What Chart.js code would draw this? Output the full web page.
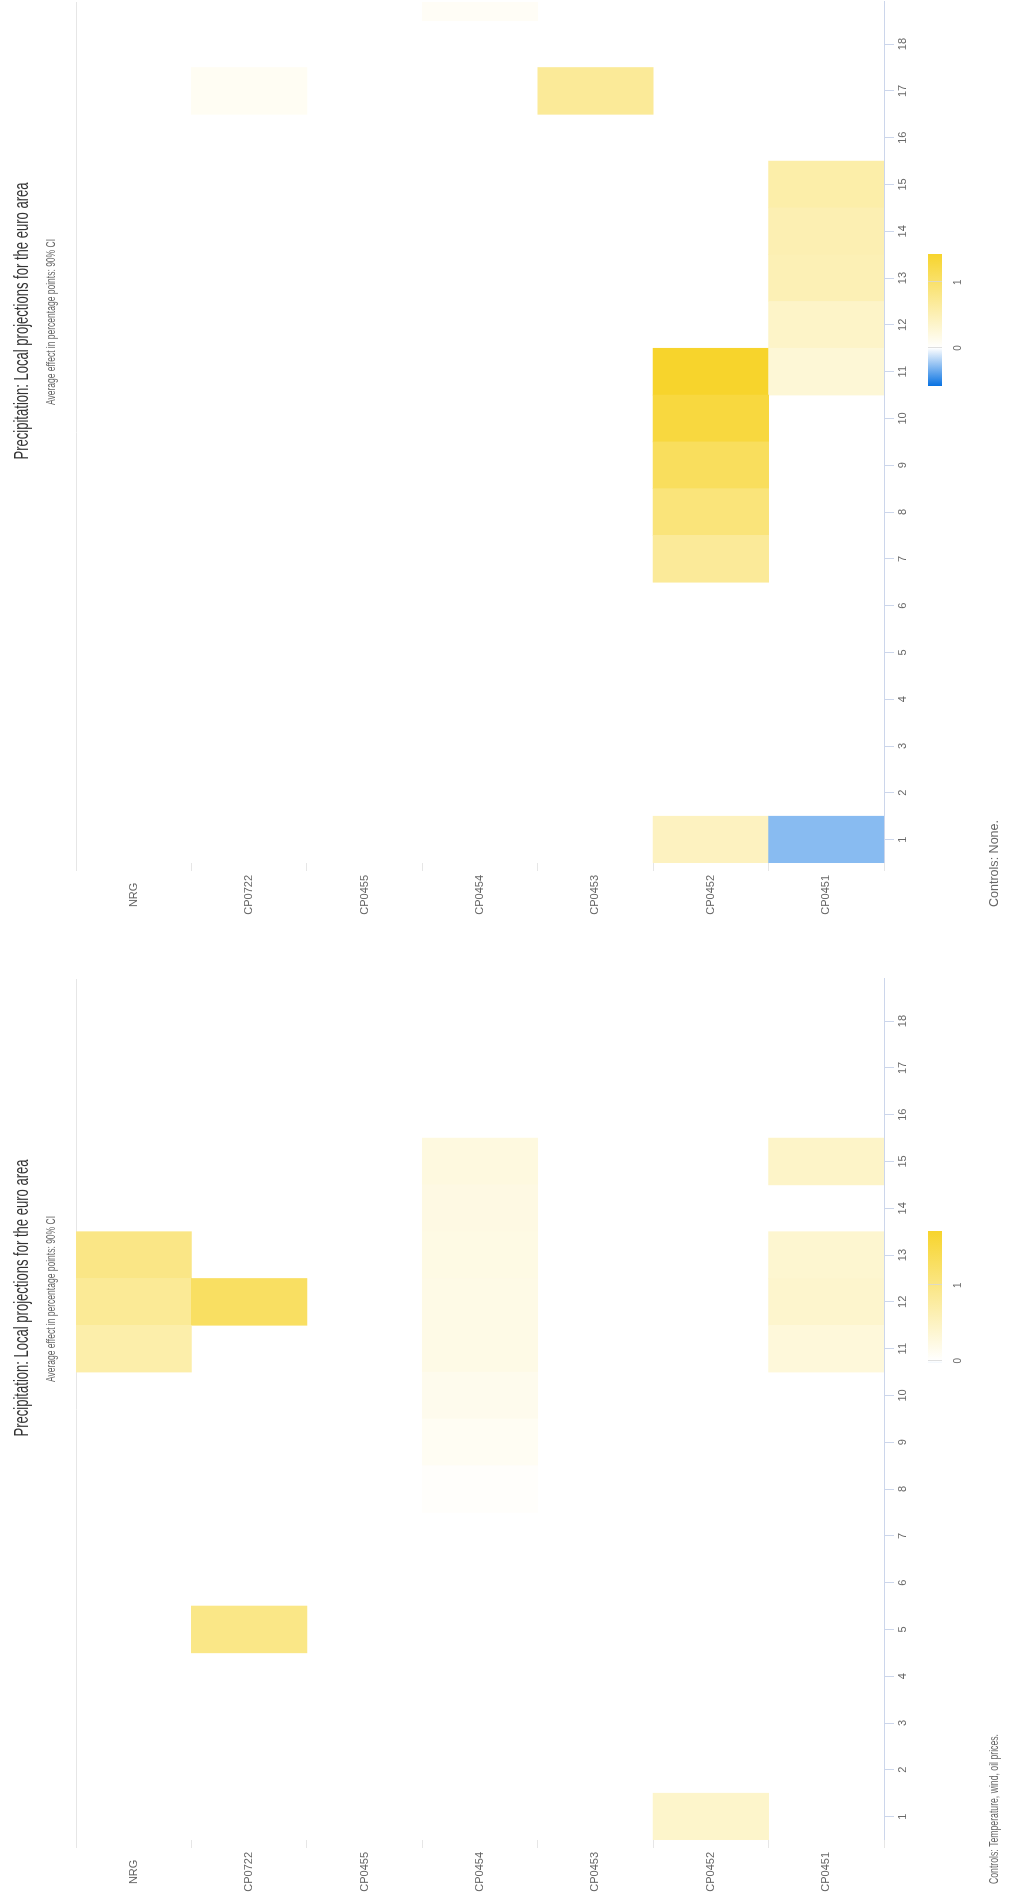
<!DOCTYPE html>
<html lang="en">
<head>
  <meta charset="UTF-8">
  <title>Precipitation: Local projections for the euro area</title>
  <style>
    html, body { margin: 0; padding: 0; background: #fff; overflow: hidden; }
    body { width: 1016px; height: 1897px; position: relative; }
    .panel { position: absolute; left: 0; top: 0; width: 976px; height: 1016px; transform-origin: 0 0; }
    #panel1 { transform: translate(0px, 948px) rotate(-90deg); }
    #panel2 { transform: translate(0px, 1925px) rotate(-90deg); }
    canvas { display: block; }
  </style>
  <script src="https://cdn.jsdelivr.net/npm/chart.js"></script>
</head>
<body>
  <div class="panel" id="panel1"><canvas id="chartNone" width="976" height="1016"></canvas></div>
  <div class="panel" id="panel2"><canvas id="chartControls" width="976" height="1016"></canvas></div>

  <script>
    // data
    const categories = ['NRG', 'CP0722', 'CP0455', 'CP0454', 'CP0453', 'CP0452', 'CP0451'];
    const horizons = [1, 2, 3, 4, 5, 6, 7, 8, 9, 10, 11, 12, 13, 14, 15, 16, 17, 18, 19];
    const tickValues = [1, 2, 3, 4, 5, 6, 7, 8, 9, 10, 11, 12, 13, 14, 15, 16, 17, 18];
    const legendTicks = [0, 1];

    // [category, horizon, effect]
    const cellsNoControls = [
      ['CP0452', 1, 0.43], ['CP0452', 7, 0.69], ['CP0452', 8, 0.90], ['CP0452', 9, 1.10],
      ['CP0452', 10, 1.30], ['CP0452', 11, 1.43],
      ['CP0451', 1, -0.28], ['CP0451', 11, 0.28], ['CP0451', 12, 0.37], ['CP0451', 13, 0.50],
      ['CP0451', 14, 0.52], ['CP0451', 15, 0.58],
      ['CP0453', 17, 0.70],
      ['CP0722', 17, 0.08],
      ['CP0454', 19, 0.06]
    ];
    const rangeNoControls = [-0.58, 1.43];

    const cellsWithControls = [
      ['NRG', 11, 0.69], ['NRG', 12, 0.86], ['NRG', 13, 0.99],
      ['CP0722', 5, 0.98], ['CP0722', 12, 1.28],
      ['CP0454', 8, 0.03], ['CP0454', 9, 0.10], ['CP0454', 10, 0.15], ['CP0454', 11, 0.20],
      ['CP0454', 12, 0.20], ['CP0454', 13, 0.22], ['CP0454', 14, 0.23], ['CP0454', 15, 0.26],
      ['CP0452', 1, 0.42],
      ['CP0451', 11, 0.30], ['CP0451', 12, 0.41], ['CP0451', 13, 0.38], ['CP0451', 15, 0.45]
    ];
    const rangeWithControls = [-0.03, 1.72];

    const titleText = 'Precipitation: Local projections for the euro area';
    const subtitleText = 'Average effect in percentage points: 90% CI';
    const captionNoControls = 'Controls: None.';
    const captionWithControls = 'Controls: Temperature, wind, oil prices.';

    const FONT = '"Liberation Sans", Arial, sans-serif';
    const white = [255, 255, 255], yellow = [247, 212, 44], blue = [8, 114, 226];
    const blueDepth = -0.58;

    function cellColor(v, max) {
      const to = v >= 0 ? yellow : blue;
      const t = Math.max(0, Math.min(1, v >= 0 ? v / max : v / blueDepth));
      return 'rgb(' + white.map((w, i) => Math.round(w + (to[i] - w) * t)).join(',') + ')';
    }

    function buildDatasets(cells, range) {
      return horizons.map(h => {
        const row = categories.map(c => cells.find(d => d[0] === c && d[1] === h));
        return {
          label: 'h' + h,
          data: row.map(d => d ? [h - 0.5, h + 0.5] : null),
          backgroundColor: row.map(d => d ? cellColor(d[2], range[1]) : 'rgba(0,0,0,0)'),
          borderWidth: 0
        };
      });
    }

    // squeeze text horizontally to the narrow face used in the original
    function drawText(ctx, text, x, y, font, color, align, width) {
      ctx.save();
      ctx.font = font;
      const sx = width / ctx.measureText(text).width;
      ctx.translate(align === 'center' ? x - width / 2 : x, y);
      ctx.scale(sx, 1);
      ctx.textAlign = 'left';
      ctx.textBaseline = 'middle';
      ctx.fillStyle = color;
      ctx.fillText(text, 0, 0);
      ctx.restore();
    }

    const decorations = {
      id: 'decorations',
      afterDraw(chart, args, opts) {
        const ctx = chart.ctx;
        drawText(ctx, titleText, 627, 22, '21px ' + FONT, '#333', 'center', 277);
        drawText(ctx, subtitleText, 626, 51, '13px ' + FONT, '#666', 'center', 166);
        drawText(ctx, opts.caption, 41, 994, '13px ' + FONT, '#666', 'left', opts.captionWidth);

        // colour axis
        const [min, max] = opts.range;
        const box = { left: 562, width: 132, top: 928, height: 14 };
        const px = v => box.left + (v - min) / (max - min) * box.width;
        const grad = ctx.createLinearGradient(box.left, 0, box.left + box.width, 0);
        grad.addColorStop(0, cellColor(min, max));
        if (min < 0) grad.addColorStop(-min / (max - min), cellColor(0, max));
        grad.addColorStop(1, cellColor(max, max));
        ctx.save();
        ctx.fillStyle = grad;
        ctx.fillRect(box.left, box.top, box.width, box.height);
        ctx.strokeStyle = 'rgba(215,215,215,0.8)';
        ctx.lineWidth = 1;
        legendTicks.forEach(v => {
          const x = Math.round(px(v)) + 0.5;
          ctx.beginPath();
          ctx.moveTo(x, box.top);
          ctx.lineTo(x, box.top + box.height);
          ctx.stroke();
          drawText(ctx, String(v), px(v), 958, '11px ' + FONT, '#666', 'center', 5.5);
        });
        ctx.restore();
      }
    };

    function makeChart(id, cells, range, caption, captionWidth) {
      return new Chart(document.getElementById(id), {
        type: 'bar',
        data: { labels: categories, datasets: buildDatasets(cells, range) },
        plugins: [decorations],
        options: {
          indexAxis: 'y',
          responsive: false,
          animation: false,
          events: [],
          layout: { padding: { top: 76, right: 30, bottom: 100, left: 0 } },
          datasets: { bar: { grouped: false, barPercentage: 1, categoryPercentage: 1 } },
          plugins: {
            legend: { display: false },
            tooltip: { enabled: false },
            decorations: { range: range, caption: caption, captionWidth: captionWidth }
          },
          scales: {
            x: {
              type: 'linear',
              min: 0.5,
              max: 18.9,
              afterBuildTicks: s => { s.ticks = tickValues.map(v => ({ value: v })); },
              afterFit: s => { s.height = 32; },
              grid: { drawOnChartArea: false, color: '#ccd6eb', tickColor: '#ccd6eb', tickLength: 10 },
              border: { color: '#ccd6eb' },
              ticks: { color: '#666', font: { family: FONT, size: 11 }, padding: 2, maxRotation: 0, autoSkip: false }
            },
            y: {
              type: 'category',
              offset: true,
              afterFit: s => { s.width = 85; },
              grid: {
                offset: true,
                color: c => c.index === 0 ? '#e6e6e6' : 'rgba(0,0,0,0)',
                tickColor: '#e6e6e6',
                tickLength: 8
              },
              border: { display: false },
              ticks: { crossAlign: 'center', color: '#666', padding: 4, font: { family: FONT, size: 11 } }
            }
          }
        }
      });
    }

    makeChart('chartNone', cellsNoControls, rangeNoControls, captionNoControls, 87);
    makeChart('chartControls', cellsWithControls, rangeWithControls, captionWithControls, 150);
  </script>
</body>
</html>
